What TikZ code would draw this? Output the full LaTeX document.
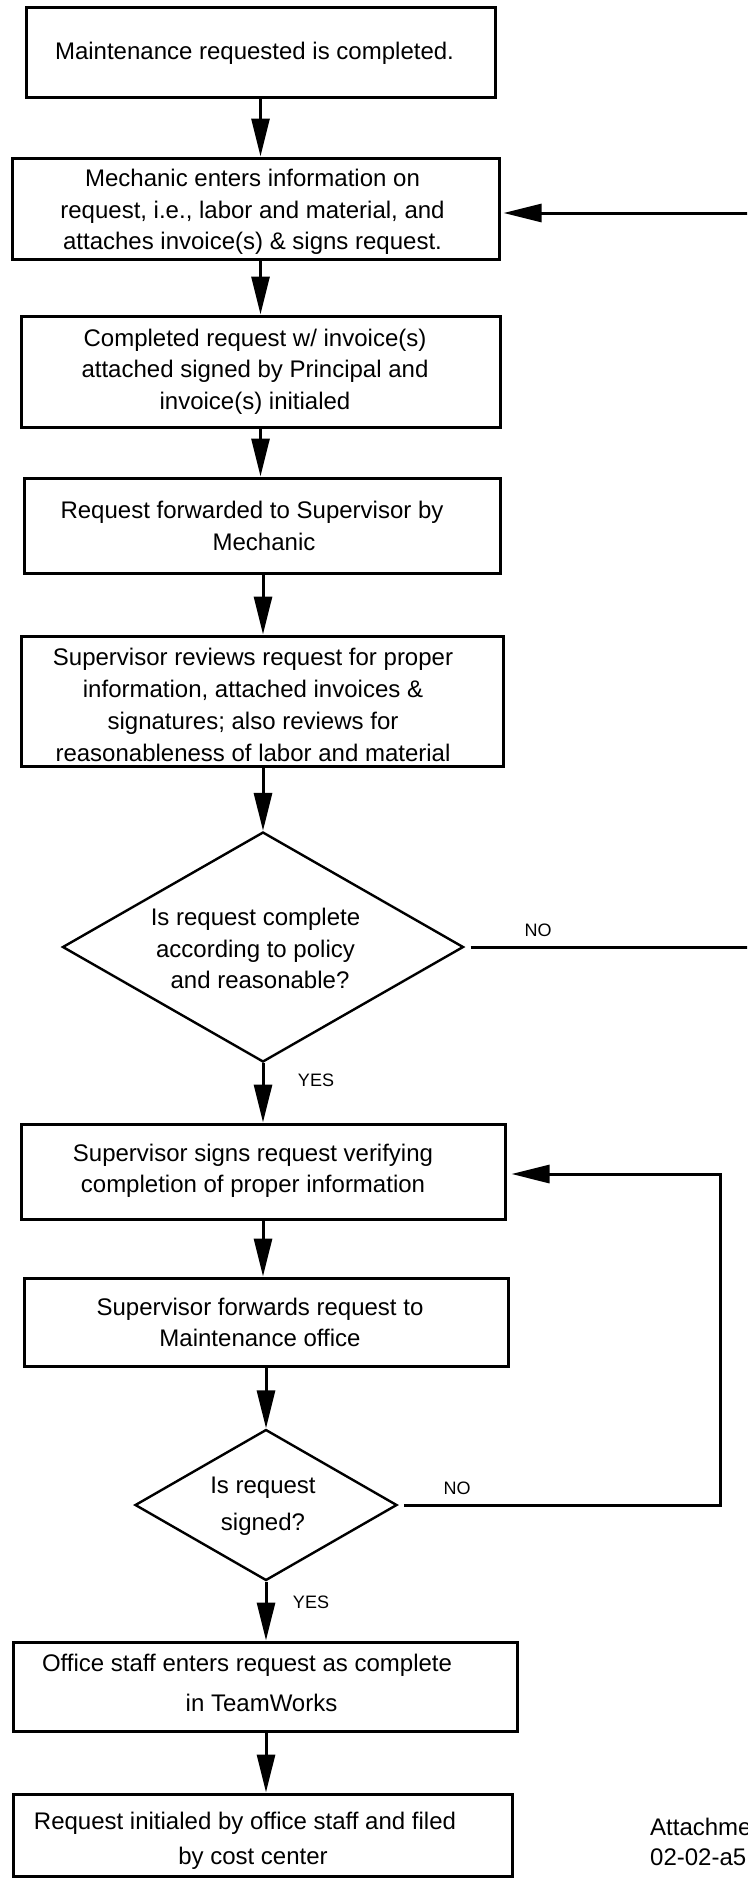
\documentclass[tikz,border=0pt]{standalone}
\usepackage{fontspec}
\setmainfont{Liberation Sans}
\usetikzlibrary{arrows.meta,shapes.geometric}
\begin{document}
\begin{tikzpicture}[x=1pt,y=-1pt,
  box/.style={draw, line width=3pt, inner sep=0pt},
  dia/.style={draw, diamond, line width=2.4pt, inner sep=0pt},
  txt/.style={align=center, inner sep=0pt, font=\fontsize{24}{31.5}\selectfont},
  lbl/.style={inner sep=0pt, font=\fontsize{18}{20}\selectfont},
  arr/.style={line width=3pt, -{Triangle[length=38pt,width=18pt]}}]
\useasboundingbox (0,0) rectangle (747,1879);
\clip (0,0) rectangle (747,1879);
% boxes
\node[box, minimum width=469pt, minimum height=90pt]  (b1) at (260.5,52) {};
\node[box, minimum width=487pt, minimum height=101pt] (b2) at (255.5,208.5) {};
\node[box, minimum width=479pt, minimum height=111pt] (b3) at (260.5,371.5) {};
\node[box, minimum width=476pt, minimum height=95pt]  (b4) at (262,525.5) {};
\node[box, minimum width=482pt, minimum height=130pt] (b5) at (262,701) {};
\node[dia, minimum width=401pt, minimum height=230pt, aspect=1.74] (d1) at (263,947) {};
\node[box, minimum width=484pt, minimum height=95pt]  (b6) at (263,1171.5) {};
\node[box, minimum width=484pt, minimum height=88pt]  (b7) at (266,1322) {};
\node[dia, minimum width=262pt, minimum height=151pt, aspect=1.735] (d2) at (266,1505) {};
\node[box, minimum width=504pt, minimum height=89pt]  (b8) at (265,1686.5) {};
\node[box, minimum width=499pt, minimum height=82pt]  (b9) at (262.5,1835) {};
% texts
\node[txt] (t1) at (254.5,53) {Maintenance requested is completed.};
\node[txt] (t2) at (252.5,212) {Mechanic enters information on\\request, i.e., labor and material, and\\attaches invoice(s) \& signs request.};
\node[txt] (t3) at (255,371.5) {Completed request w/ invoice(s)\\attached signed by Principal and\\invoice(s) initialed};
\node[txt] (t4) at (264,526) {Request forwarded to Supervisor by\hspace*{24pt}\\Mechanic};
\node[txt, font=\fontsize{24}{32}\selectfont] (t5) at (253,705) {Supervisor reviews request for proper\\information, attached invoices \&\\signatures; also reviews for\\reasonableness of labor and material};
\node[txt] (t6) at (255.5,948.5) {Is request complete\\according to policy\\\hspace*{9pt}and reasonable?};
\node[txt] (t7) at (253,1171) {Supervisor signs request verifying\\completion of proper information};
\node[txt] (t8) at (260,1322.5) {Supervisor forwards request to\\Maintenance office};
\node[txt, font=\fontsize{24}{37}\selectfont] (t9) at (263,1506.5) {Is request\\signed?};
\node[txt, font=\fontsize{24}{40}\selectfont] (t10) at (261.5,1683) {Office staff enters request as complete\hspace*{29pt}\\in TeamWorks};
\node[txt, font=\fontsize{24}{35}\selectfont] (t11) at (253,1840.5) {Request initialed by office staff and filed\hspace*{16pt}\\by cost center};
\node[txt, align=left, anchor=west, font=\fontsize{24}{30}\selectfont] (att) at (650,1842) {Attachment\\02-02-a5};
% labels
\node[lbl] (no1) at (538,930) {NO};
\node[lbl] (yes1) at (316,1080) {YES};
\node[lbl] (no2) at (457,1488) {NO};
\node[lbl] (yes2) at (311,1602) {YES};
% vertical flow
\draw[arr] (b1.south) -- (b1.south |- b2.north);
\draw[arr] (b3.north |- b2.south) -- (b3.north);
\draw[arr] (b3.south) -- (b3.south |- b4.north);
\draw[arr] (d1.north |- b4.south) -- (d1.north |- b5.north);
\draw[arr] (d1.north |- b5.south) -- (d1.north);
\draw[arr] (d1.south) -- (d1.south |- b6.north);
\draw[arr] (d1.south |- b6.south) -- (d1.south |- b7.north);
\draw[arr] (d2.north |- b7.south) -- (d2.north);
\draw[arr] (d2.south) -- (d2.south |- b8.north);
\draw[arr] (d2.south |- b8.south) -- (d2.south |- b9.north);
% loops
\coordinate (r0) at (770,947);
\coordinate (r1) at (770,213);
\draw[arr, shorten <=6pt, shorten >=3pt] (d1.east) -- (r0) -- (r1) -- (r1 -| b2.east);
\coordinate (s0) at (720,1505);
\coordinate (s1) at (720,1174);
\draw[arr, shorten <=6pt, shorten >=5pt] (d2.east) -- (s0) -- (s1) -- (s1 -| b6.east);
\end{tikzpicture}
\end{document}
